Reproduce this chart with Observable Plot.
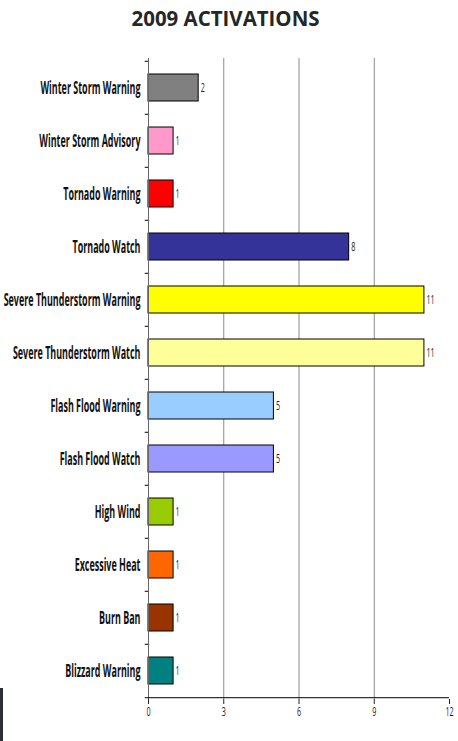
<!DOCTYPE html>
<html><head><meta charset="utf-8">
<script src="https://cdn.jsdelivr.net/npm/d3@7"></script>
<script src="https://cdn.jsdelivr.net/npm/@observablehq/plot@0.6"></script>
<style>
html,body{margin:0;padding:0;background:#fff;}
body{width:458px;height:741px;overflow:hidden;position:relative;}
#title{position:absolute;left:0;top:0;width:458px;height:40px;text-align:center;}
#title span{display:inline-block;font-family:"Open Sans",sans-serif;font-weight:bold;font-size:21px;line-height:21px;color:#262626;margin-top:8px;transform-origin:50% 50%;margin-left:-6px;}
#chart{position:absolute;left:0;top:40px;}
#edge{position:absolute;left:0;top:688px;width:3px;height:53px;background:#2b2f36;}
</style></head><body>
<div id="title"><span>2009 ACTIVATIONS</span></div>
<div id="chart"></div>
<div id="edge"></div>
<script>
const categories = [
  "Winter Storm Warning","Winter Storm Advisory","Tornado Warning","Tornado Watch",
  "Severe Thunderstorm Warning","Severe Thunderstorm Watch","Flash Flood Warning",
  "Flash Flood Watch","High Wind","Excessive Heat","Burn Ban","Blizzard Warning"
];
const values = [2,1,1,8,11,11,5,5,1,1,1,1];
const colors = ["#808080","#FF99CC","#FF0000","#333399","#FFFF00","#FFFF99","#99CCFF",
  "#9999FF","#99CC00","#FF6600","#993300","#008080"];
const xTicks = [0,3,6,9,12];

const data = categories.map((c,i)=>({category:c, value:values[i], color:colors[i]}));
const W = 458, H = 701, MT = 18, MB = 42, ML = 148, MR = 9;
const step = (H - MT - MB) / categories.length;
const FONT = "'Open Sans', sans-serif";

const plot = Plot.plot({
  width: W, height: H,
  marginTop: MT, marginBottom: MB, marginLeft: ML, marginRight: MR,
  style: {background: "#fff", overflow: "visible"},
  x: {domain: [0, 12], axis: null},
  y: {domain: categories, paddingInner: 0.5, paddingOuter: 0.25, axis: null},
  marks: [
    Plot.ruleX(xTicks.slice(1, -1), {stroke: "#8c8c8c", strokeWidth: 1}),
    Plot.barX(data, {y: "category", x: "value", fill: "color", stroke: "#000", strokeWidth: 1}),
    Plot.text(data, {y: "category", x: "value", text: d => String(d.value), dx: 2, textAnchor: "start",
      fontSize: 13, fill: "#222", fontFamily: FONT, className: "vlab"}),
    Plot.axisY({tickSize: 0, tickPadding: 8, fontSize: 18, fontWeight: 700,
      fontFamily: FONT, color: "#111", label: null, className: "ylab"}),
    Plot.ruleY(categories, {y: d => d, x1: -0.13, x2: 0, dy: -step / 2, stroke: "#000"}),
    Plot.ruleY([categories[categories.length - 1]], {y: d => d, x1: -0.13, x2: 0, dy: step / 2, stroke: "#000"}),
    Plot.ruleX([0], {stroke: "#666"}),
    Plot.axisX({ticks: xTicks, tickSize: 5, tickPadding: 2, fontSize: 13, anchor: "bottom",
      fontFamily: FONT, color: "#222", label: null, className: "xlab", tickFormat: d => String(d)}),
    Plot.ruleY([0], {y: () => categories[categories.length - 1], dy: step / 2, x1: 0, x2: 12, stroke: "#000"})
  ]
});
document.getElementById("chart").appendChild(plot);

// condense text horizontally like the reference's narrow font
function squeeze(t, k) {
  const tr = t.getAttribute("transform") || "";
  t.setAttribute("transform", tr + ` scale(${k.toFixed(4)},1)`);
}
const yTexts = plot.querySelectorAll(".ylab text");
let longest = 0;
yTexts.forEach(t => { longest = Math.max(longest, t.getComputedTextLength()); });
const ky = 137 / longest;
yTexts.forEach(t => squeeze(t, ky));
plot.querySelectorAll(".vlab text, .xlab text").forEach(t => squeeze(t, 0.55));
const ts = document.querySelector("#title span");
const tw = ts.getBoundingClientRect().width;
ts.style.transform = `scaleX(${188 / tw})`;
</script>
</body></html>
